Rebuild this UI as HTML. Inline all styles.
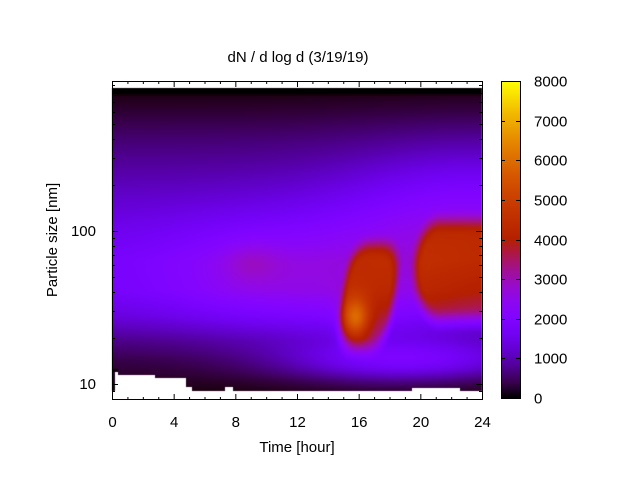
<!DOCTYPE html>
<html><head><meta charset="utf-8"><style>
html,body{margin:0;padding:0;background:#fff;width:640px;height:480px;overflow:hidden}
#c{position:absolute;left:0;top:0}
svg{position:absolute;left:0;top:0}
text{font-family:"Liberation Sans","DejaVu Sans",sans-serif;font-size:15px;fill:#000}
</style></head><body>
<canvas id="c" width="640" height="480"></canvas>
<svg width="640" height="480" id="s">
<defs>
<linearGradient id="cb" x1="0" y1="1" x2="0" y2="0">
<stop offset="0" stop-color="#000000"/><stop offset="0.05" stop-color="#39004f"/>
<stop offset="0.1" stop-color="#510096"/><stop offset="0.15" stop-color="#6301ce"/>
<stop offset="0.2" stop-color="#7202f2"/><stop offset="0.25" stop-color="#8004ff"/>
<stop offset="0.3" stop-color="#8c07f2"/><stop offset="0.35" stop-color="#970bce"/>
<stop offset="0.4" stop-color="#a11096"/><stop offset="0.45" stop-color="#ab174f"/>
<stop offset="0.5" stop-color="#b42000"/><stop offset="0.6" stop-color="#c53700"/>
<stop offset="0.7" stop-color="#d55700"/><stop offset="0.8" stop-color="#e48300"/>
<stop offset="0.9" stop-color="#f2ba00"/><stop offset="1" stop-color="#ffff00"/>
</linearGradient>
</defs>
<rect x="501" y="81" width="19" height="317" fill="url(#cb)"/>
<rect x="501.5" y="81.5" width="19" height="317" fill="none" stroke="#000" stroke-width="1"/>
<rect x="112.5" y="81.5" width="370" height="318" fill="none" stroke="#000" stroke-width="1"/>
<g id="ticks" stroke="#000" stroke-width="1"></g>
<g id="labels"></g>
<text x="298" y="62" text-anchor="middle">dN / d log d (3/19/19)</text>
<text x="297" y="452" text-anchor="middle">Time [hour]</text>
<text transform="translate(57,240) rotate(-90)" text-anchor="middle">Particle size [nm]</text>
</svg>
<script>
var cv=document.getElementById('c'),ctx=cv.getContext('2d');
function cmap(v){var x=Math.max(0,Math.min(1,v/8000));var r=Math.sqrt(x),g=x*x*x,b=Math.max(0,Math.sin(2*Math.PI*x));
return [Math.round(r*255),Math.round(g*255),Math.round(b*255)];}
var prof=[[88,0],[93,0],[96,120],[110,250],[140,600],[170,900],[200,1200],[230,1500],[260,1750],[290,1700],[315,1300],[340,700],[360,350],[380,150],[392,50]];
function base(Y){for(var i=0;i<prof.length-1;i++){if(Y>=prof[i][0]&&Y<=prof[i+1][0]){var t=(Y-prof[i][0])/(prof[i+1][0]-prof[i][0]);return prof[i][1]+t*(prof[i+1][1]-prof[i][1]);}}return 0;}
function g(X,Y,cx,cy,sx,sy){var dx=(X-cx)/sx,dy=(Y-cy)/sy;return Math.exp(-0.5*(dx*dx+dy*dy));}
function ss(a,b,x){var t=Math.max(0,Math.min(1,(x-a)/(b-a)));return t*t*(3-2*t);}
function val(X,Y){
 var v=base(Y);
 var f=Y<94?0:1;
 v+=f*(700*g(X,Y,260,275,70,40)+400*g(X,Y,250,262,20,15)+1000*g(X,Y,470,220,90,50)+1300*g(X,Y,410,360,90,14)+500*g(X,Y,380,300,60,50));
 var cx=368-0.14*(Y-296);var dx=(X-cx)/29,dy=(Y-296)/60;var r=Math.pow(Math.pow(Math.abs(dx),3)+Math.pow(Math.abs(dy),3),1/3);
 v+=1750*(1-ss(0.65,1.1,r));
 v+=2300*g(X,Y,355,318,10,15);
 var ex=X<440?(X-440)/30:0;var ey=(Y-270)/58;var r2=Math.sqrt(ex*ex+ey*ey);
 v+=1800*(1-ss(0.6,1.1,r2));
 return v;}
var img=ctx.createImageData(640,480);
for(var Y=88;Y<391;Y++){for(var X=112;X<482;X++){
 var yy=Math.floor(Y/2)*2;var c=cmap(val(X,yy));var k=(Y*640+X)*4;
 img.data[k]=c[0];img.data[k+1]=c[1];img.data[k+2]=c[2];img.data[k+3]=255;}}
ctx.putImageData(img,0,0);
ctx.fillStyle='#000';ctx.fillRect(112,88,370,4);
ctx.fillStyle='#fff';
[[115,372,3,20],[118,375,37,17],[155,378,31,14],[186,387,6,5],[225,387,8,5],[412,388,48,4],[112,391,370,9]].forEach(function(r){ctx.fillRect(r[0],r[1],r[2],r[3]);});
ctx.fillStyle='#100008';ctx.fillRect(112,369,6,3);
var NS='http://www.w3.org/2000/svg';var tk=document.getElementById('ticks'),lb=document.getElementById('labels');
function ln(x1,y1,x2,y2){var l=document.createElementNS(NS,'line');l.setAttribute('x1',x1);l.setAttribute('y1',y1);l.setAttribute('x2',x2);l.setAttribute('y2',y2);tk.appendChild(l);}
function tx(x,y,s,a){var t=document.createElementNS(NS,'text');t.setAttribute('x',x);t.setAttribute('y',y);t.setAttribute('text-anchor',a);t.textContent=s;lb.appendChild(t);}
for(var h=0;h<=24;h++){var x=112.5+h*370/24;var L=(h%4==0)?6:3;ln(x,400,x,400-L);ln(x,81,x,81+L);if(h%4==0)tx(x,427,String(h),'middle');}
function ly(d){return 384-(Math.log10(d)-1)*153;}
[8,9,10,20,30,40,50,60,70,80,90,100,200,300,400,500,600,700,800,900].forEach(function(d){var y=Math.round(ly(d))+0.5;if(y<81||y>400)return;var L=(d==10||d==100)?6:3;ln(112,y,112+L,y);ln(482,y,482-L,y);});
tx(96,236,'100','end');tx(96,389,'10','end');
for(var i=0;i<=8;i++){var y=Math.round(398-i*317/8)+0.5;ln(501,y,505,y);ln(520,y,516,y);tx(534,y+5,String(i*1000),'start');}
</script>
</body></html>
